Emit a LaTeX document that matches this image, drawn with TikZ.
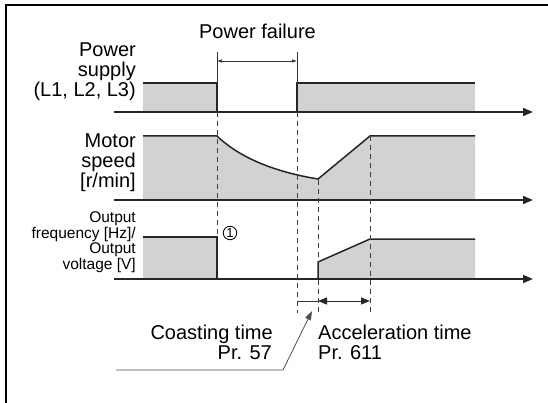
\documentclass[tikz,border=0pt]{standalone}
\usepackage{fontspec}
\setmainfont{Liberation Sans}
\usetikzlibrary{arrows.meta}
\begin{document}
\begin{tikzpicture}[x=1pt,y=-1pt,
  fillgray/.style={fill=gray!35, draw=none},
  edge/.style={line width=1.5pt, draw=black!85, line join=miter},
  axis/.style={line width=1.5pt, draw=black!85, -{Triangle[length=10pt,width=8pt]}},
  guide/.style={line width=0.8pt, draw=black!75, dash pattern=on 5pt off 4pt},
  thin/.style={line width=0.8pt, draw=black!80},
  lbl/.style={font=\fontsize{20}{20}\selectfont, inner sep=0pt},
  small/.style={font=\fontsize{15.5}{15.5}\selectfont, inner sep=0pt, align=right},
]
\useasboundingbox (0,0) rectangle (548,403);
% frame
\draw[line width=2.5pt] (548,5) -- (6,5) -- (6,403);

% key coordinates
\coordinate (pf1) at (217,52);
\coordinate (pf2) at (297,52);

% ---------- Power supply ----------
\fill[fillgray] (143,112) rectangle (217,83);
\fill[fillgray] (297,112) rectangle (475,83);
\draw[edge] (143,83) -- (217,83) -- (217,112);
\draw[edge] (297,112) -- (297,83) -- (475,83);
\draw[axis] (114,112) -- (533,112);
\draw[thin] (pf1) -- (217,83);
\draw[thin] (pf2) -- (297,83);
\draw[line width=0.6pt, draw=black!80, {Latex[length=5pt,width=3.5pt]}-{Latex[length=5pt,width=3.5pt]}] (217,61) -- (297,61);
\node[lbl, anchor=base] (pftext) at (257.5,39) {Power failure};
\node[lbl, align=right, anchor=north east] (pslbl) at (136,43) {Power\\supply\\(L1, L2, L3)};

% ---------- Motor speed ----------
\fill[fillgray] (143,200) -- (143,136) -- (217,136) .. controls (240,158) and (275,172) .. (318,179) -- (370,136) -- (475,136) -- (475,200) -- cycle;
\draw[edge] (143,136) -- (217,136) .. controls (240,158) and (275,172) .. (318,179) -- (370,136) -- (475,136);
\draw[axis] (114,200) -- (533,200);
\node[lbl, align=right, anchor=north east] (mslbl) at (136,134) {Motor\\speed\\{[r/min]}};

% ---------- Output ----------
\fill[fillgray] (143,279) rectangle (217,237);
\fill[fillgray] (318,279) -- (318,262) -- (370,239) -- (475,239) -- (475,279) -- cycle;
\draw[edge] (143,237) -- (217,237) -- (217,279);
\draw[edge] (318,279) -- (318,262) -- (370,239) -- (475,239);
\draw[axis] (114,279) -- (533,279);
\node[small, anchor=north east] (outlbl) at (136,211.5) {Output\\frequency [Hz]/\\Output\\voltage [V]};
\node[circle, draw, line width=0.8pt, minimum size=13.5pt, inner sep=0pt, font=\fontsize{13}{13}\selectfont] (c1) at (230,233) {1};

% ---------- guides ----------
\draw[guide] (217,112) -- (217,236);
\draw[guide] (297,112) -- (297,313);
\draw[guide] (318,180) -- (318,262);
\draw[guide] (318,280) -- (318,313);
\draw[guide] (370,136) -- (370,313);

% ---------- dimensions ----------
\draw[thin] (297,301) -- (318,301);
\draw[line width=1pt, draw=black!85, {Triangle[length=9pt,width=7pt]}-{Triangle[length=9pt,width=7pt]}] (318,301) -- (370,301);

% leader
\draw[line width=0.8pt, draw=black!70, -{Triangle[length=9pt,width=6pt]}] (116,370) -- (283,370) -- (312,311);

\node[lbl, anchor=base east] (coast) at (273,339) {Coasting time};
\node[lbl, anchor=base east] (pr57) at (272,359) {Pr. 57};
\node[lbl, anchor=base west] (accel) at (318,339) {Acceleration time};
\node[lbl, anchor=base west] (pr611) at (318,359) {Pr. 611};
\end{tikzpicture}
\end{document}
